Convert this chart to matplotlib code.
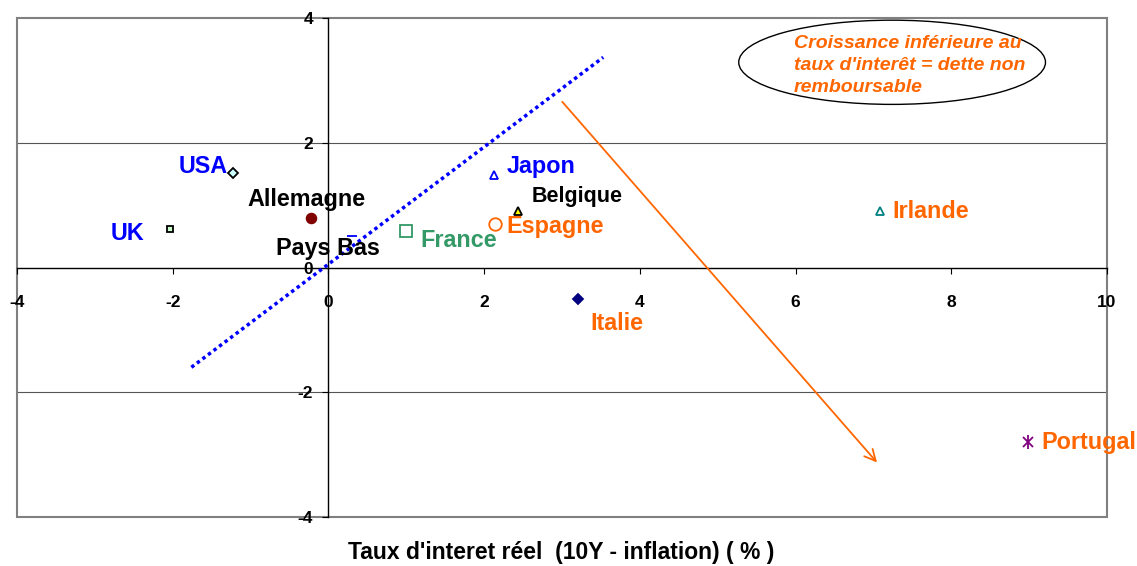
import matplotlib
matplotlib.use("Agg")
import matplotlib.pyplot as plt
from matplotlib.patches import Ellipse, Rectangle

plt.rcParams['font.family'] = ['Liberation Sans', 'DejaVu Sans']
plt.rcParams['font.weight'] = 'bold'

# data: real interest rate (x) vs growth gap (y)
countries = ["USA", "UK", "Allemagne", "Pays Bas", "France", "Japon",
             "Belgique", "Espagne", "Italie", "Irlande", "Portugal"]
x_vals = [-1.22, -2.04, -0.23, 0.30, 0.99, 2.13, 2.43, 2.14, 3.21, 7.09, 8.99]
y_vals = [1.51, 0.61, 0.80, 0.50, 0.59, 1.49, 0.90, 0.69, -0.50, 0.90, -2.79]

# dotted frontier line and arrow
line_x = [-1.76, 3.53]
line_y = [-1.60, 3.37]
arrow_start = (2.98, 2.69)
arrow_end = (7.07, -3.16)

x_ticks = [-4, -2, 0, 2, 4, 6, 8, 10]
y_ticks = [-4, -2, 0, 2, 4]

note = "Croissance inférieure au\ntaux d'interêt = dette non\nremboursable"
xlabel = "Taux d'interet réel  (10Y - inflation) ( % )"

orange = "#FF6600"
# marker style, face, edge, size, label colour, label offset (px), ha
styles = {
    "USA":       ("D", "#CCFFFF", "black", 5, "#0000FF", (-6, 7), "right"),
    "UK":        ("s", "#CCFFCC", "black", 5, "#0000FF", (-25, -4), "right"),
    "Allemagne": ("o", "#800000", "#800000", 7, "black", (-4, 18), "center"),
    "Pays Bas":  ("_", "#0000FF", "#0000FF", 7, "black", (-24, -12), "center"),
    "France":    ("s", "none", "#339966", 9, "#339966", (15, -10), "left"),
    "Japon":     ("^", "none", "#0000FF", 6, "#0000FF", (12, 8), "left"),
    "Belgique":  ("^", "#FFFF00", "black", 6, "black", (14, 15), "left"),
    "Espagne":   ("o", "none", orange, 9, orange, (11, -2), "left"),
    "Italie":    ("D", "#000080", "#000080", 5, orange, (12, -25), "left"),
    "Irlande":   ("^", "none", "#008080", 6, orange, (12, 0), "left"),
    "Portugal":  ("x", "#800080", "#800080", 7.5, orange, (13, -1), "left"),
}
label_size = {"Belgique": 15.5}

fig = plt.figure(figsize=(11.37, 5.66), dpi=100)
ax = fig.add_axes([17 / 1137, 1 - 517 / 566, 1090 / 1137, 499 / 566])
ax.set_xlim(-4, 10)
ax.set_ylim(-4, 4)

for yy in [-2, 2]:
    ax.axhline(yy, color="#555555", lw=0.8, zorder=1)
ax.add_patch(Rectangle((0, 0), 1, 1, transform=ax.transAxes, fill=False,
                       ec="#808080", lw=1.5, zorder=1, clip_on=False))

for s in ["top", "right"]:
    ax.spines[s].set_visible(False)
ax.spines["left"].set_position(("data", 0))
ax.spines["bottom"].set_position(("data", 0))
ax.spines["left"].set_linewidth(1)
ax.spines["bottom"].set_linewidth(1)

ax.set_xticks(x_ticks)
ax.set_yticks(y_ticks)
ax.set_xticklabels([str(t) for t in x_ticks], fontsize=12.5, fontweight="bold")
ax.set_yticklabels([str(t) for t in y_ticks], fontsize=12.5, fontweight="bold")
ax.tick_params(axis="x", direction="out", length=4, pad=16)
ax.tick_params(axis="y", direction="out", length=4, pad=7)

for name, xv, yv in zip(countries, x_vals, y_vals):
    mk, fc, ec, ms, lc, off, ha = styles[name]
    ax.plot([xv], [yv], marker=mk, mfc=fc, mec=ec, ms=ms, mew=1.3,
            linestyle="none", zorder=4, clip_on=False)
    if name == "Portugal":
        # asterisk: add vertical stroke to the cross
        ax.plot([xv], [yv], marker="|", mec=ec, ms=ms + 2, mew=1.3,
                linestyle="none", zorder=4)
    ax.annotate(name, (xv, yv), xytext=off, textcoords="offset pixels",
                ha=ha, va="center", color=lc, fontsize=label_size.get(name, 16.8),
                fontweight="bold", zorder=5)

ax.plot(line_x, line_y, color="#0000FF", lw=2.5, linestyle=(0, (1, 1)), zorder=3)

ax.annotate("", xy=arrow_end, xytext=arrow_start,
            arrowprops=dict(arrowstyle="->,head_length=0.8,head_width=0.4",
                            color=orange, lw=1.3), zorder=3)

ax.add_patch(Ellipse((7.24, 3.29), 3.94, 1.35, fill=False, ec="black", lw=1, zorder=3))
ax.text(5.98, 3.72, note, color=orange, fontsize=14, fontweight="bold",
        fontstyle="italic", ha="left", va="top", linespacing=1.38, zorder=4)

fig.text(561 / 1137, 1 - 553 / 566, xlabel, ha="center", va="center",
         fontsize=16.5, fontweight="bold")

fig.savefig("out.png", dpi=100)
